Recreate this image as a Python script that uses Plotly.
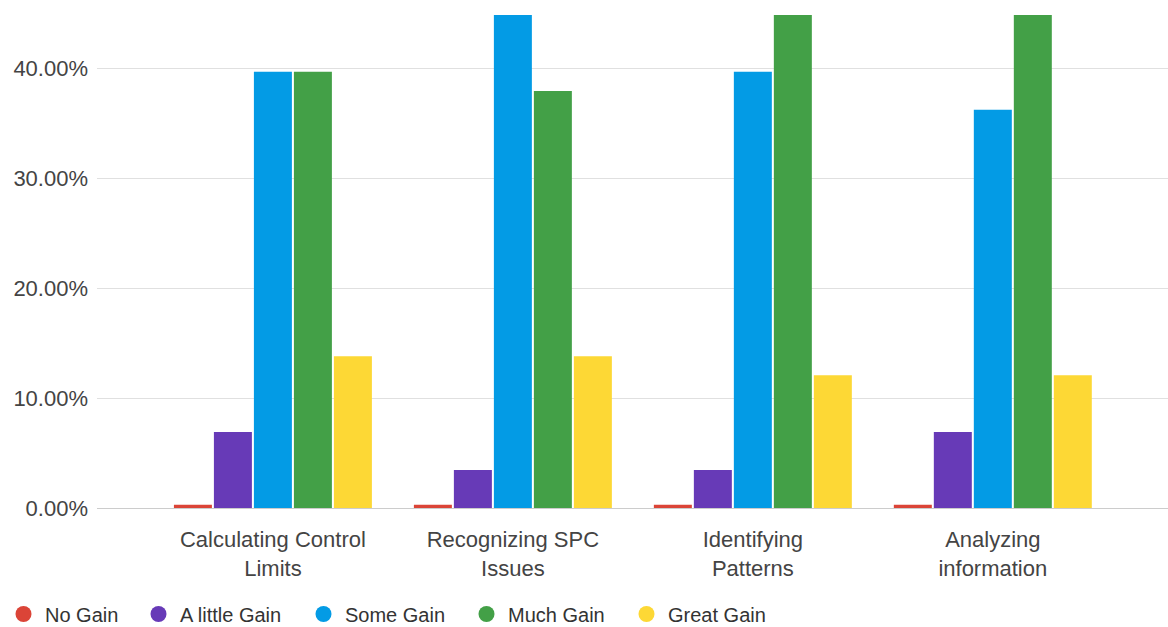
import plotly.graph_objects as go

# Survey responses: share of respondents (%) per skill and perceived gain
skills = ["Calculating Control<br>Limits", "Recognizing SPC<br>Issues",
          "Identifying<br>Patterns", "Analyzing<br>information"]
no_gain = [0.0, 0.0, 0.0, 0.0]
a_little_gain = [6.90, 3.45, 3.45, 6.90]
some_gain = [39.66, 44.83, 39.66, 36.21]
much_gain = [39.66, 37.93, 44.83, 44.83]
great_gain = [13.79, 13.79, 12.07, 12.07]

series_names = ["No Gain", "A little Gain", "Some Gain", "Much Gain", "Great Gain"]
series_values = [no_gain, a_little_gain, some_gain, much_gain, great_gain]
colors = ["#db4437", "#673ab7", "#039be5", "#43a047", "#fdd835"]

# zero-valued bars still get a thin visible sliver, as in the source dashboard
MIN_VISIBLE = 0.3

# each legend entry gets its own legend box, laid out left to right (px from left)
legend_left_px = [2, 137, 302, 465, 625]
W, H = 1168, 627
LEGEND_CENTER_PX = 614  # vertical centre of the legend row, from the top

fig = go.Figure()
legend_layouts = {}
for i, (name, vals, col) in enumerate(zip(series_names, series_values, colors)):
    shown = [v if v > 0 else MIN_VISIBLE for v in vals]
    fig.add_trace(go.Bar(
        x=skills, y=shown, name=name, marker_color=col,
        marker_line_width=0, showlegend=False,
        customdata=vals, hovertemplate="%{x}: %{customdata:.2f}%<extra>" + name + "</extra>",
    ))
    key = "legend" if i == 0 else f"legend{i + 1}"
    # legend entry as a round marker
    fig.add_trace(go.Scatter(
        x=[None], y=[None], mode="markers", name=name, legend=key,
        marker=dict(color=col, size=16, symbol="circle"),
    ))
    legend_layouts[key] = dict(
        orientation="h", xref="container", yref="container",
        x=legend_left_px[i] / W, xanchor="left",
        y=(H - LEGEND_CENTER_PX) / H, yanchor="middle",
        font=dict(size=20, color="#333333"), itemwidth=33,
        borderwidth=0, bgcolor="rgba(0,0,0,0)",
    )

top = max(max(v) for v in series_values)

fig.update_layout(
    width=W, height=H,
    margin=dict(l=97, r=0, t=15, b=119),
    paper_bgcolor="white", plot_bgcolor="white",
    barmode="group", bargap=0.1667, bargroupgap=0.05,
    font=dict(family="Liberation Sans, Arial, sans-serif", size=22, color="#444444"),
    xaxis=dict(range=[-0.733, 3.73], showgrid=False, zeroline=False,
               showline=False, ticks="", ticklabelstandoff=16,
               tickfont=dict(size=22, color="#444444")),
    yaxis=dict(range=[0, top], dtick=10, tickformat=".2f", ticksuffix="%",
               showgrid=True, gridcolor="#e0e0e0", gridwidth=1,
               zeroline=True, zerolinecolor="#cccccc", zerolinewidth=1,
               ticks="", ticklabelstandoff=8,
               tickfont=dict(size=22, color="#444444")),
    showlegend=True,
    **legend_layouts,
)

fig.write_html("out.html")
